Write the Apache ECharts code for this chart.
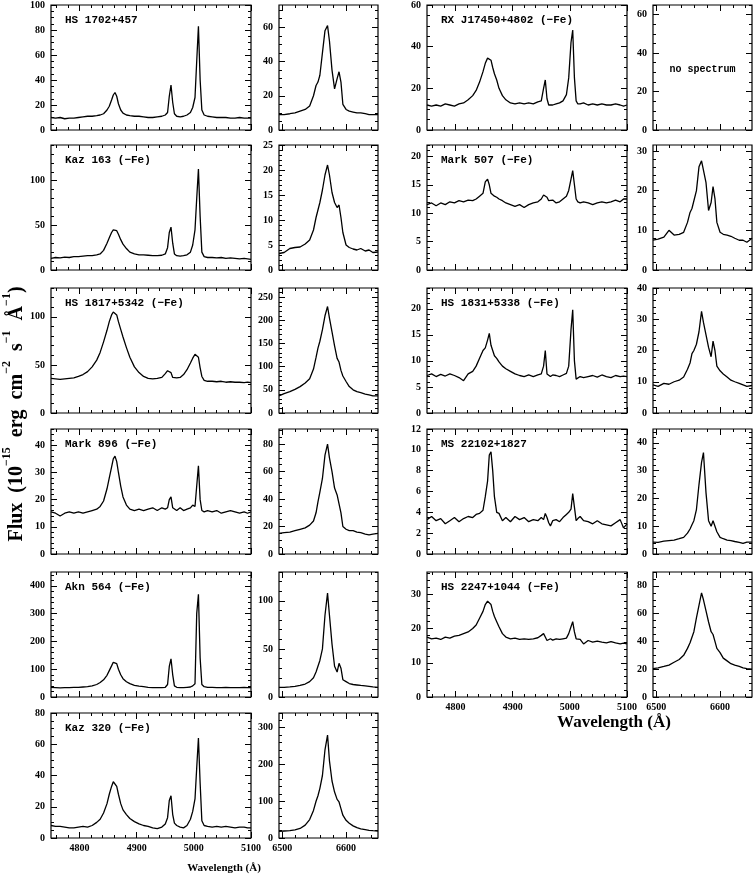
<!DOCTYPE html>
<html><head><meta charset="utf-8">
<script src="https://cdn.jsdelivr.net/npm/echarts@6/dist/echarts.min.js"></script>
<style>html,body{margin:0;padding:0;background:#fff}#c{width:754px;height:877px}</style>
</head><body><div id="c"></div>
<script>
// ---- wavelength grids (Angstrom) ----
const HB_WAVE = [4750,4758,4766,4774,4782,4790,4798,4806,4814,4822,
  4830,4836,4842,4848,4852,4856,4859,4862,4865,4868,
  4872,4876,4882,4888,4896,4904,4912,4920,4928,4936,
  4944,4950,4954,4957,4960,4963,4966,4970,4976,4982,
  4988,4994,4998,5002,5005,5008,5011,5014,5018,5024,
  5032,5040,5048,5056,5064,5072,5080,5088,5094,5100];
const HA_WAVE = [6495,6503,6512,6520,6528,6536,6543,6549,6553,6556,
  6559,6563,6567,6571,6574,6578,6582,6586,6589,6592,
  6595,6600,6605,6611,6617,6623,6630,6636,6642,6650];

// ---- tick labels ----
const HB_X_LABELS = [4800,4900,5000,5100];
const HA_X_LABELS = [6500,6600];

// ---- flux values (10^-15 erg cm^-2 s^-1 A^-1) ----
const hs1702_hb = [10,9.5,10,9,9.5,9.5,10,10.5,11,11, 11.5,12,13,16,19,24,28,30,27,21, 16,13.5,12,11.5,11,11,10.5,10,10,10.5, 11,12,14,27,36,22,13,11,10.5,11, 12,14,18,26,55,83,40,16,12,11, 10.5,10,10,10,9.5,9.5,10,9.5,9.5,9.5];
const hs1702_ha = [9,9,9.5,10,11,12,14,20,26,28, 32,45,58,61,52,35,24,30,34,28, 15,12,11,10.5,10,10,9.5,9,9,9];
const kaz163_hb = [13,14,13.5,14.5,14,15,15,15.5,16,16, 17,18,22,30,36,42,45,46,44,40, 34,29,24,20,18,17,17,16.5,16,16, 16.5,18,25,42,48,30,18,16,15.5,16, 17,20,28,45,80,113,60,20,15,14, 14,13.5,14,13,13.5,13,12.5,13,12.5,12];
const kaz163_ha = [3.3,3.5,4.3,4.5,4.6,5.2,6,8,10.5,12, 13.5,16,19,21,19,15.5,13.5,12.5,13,10.5, 7.5,5,4.5,4.2,4,4.3,3.8,4,3.5,3.6];
const hs1817_hb = [36,35.5,35,35.5,36,36.5,38,40,43,48, 55,63,74,86,95,102,105,106,102,95, 87,79,68,58,48,42,38,36,35.5,36, 37,41,44,45,42,37,36,36.5,37,40, 45,52,57,61,62,58,47,38,34,33, 33,32.5,33,32,32.5,32,32,31.5,32,31.5];
const hs1817_ha = [37,42,46,51,57,65,74,95,120,140, 155,180,210,230,205,175,145,118,110,92, 80,68,57,50,46,44,41,39,37,37];
const mark896_hb = [15.5,15,14,15,15.5,15,15.5,15,15.5,16, 16.5,17.5,19.5,24,28,32,35,36,34,30, 25,21,18,16.5,16,16.5,16,16.5,17,16, 17,16.5,17,20,21,17,16.5,16,17,16, 16.5,17,18,17.5,25,32.5,20,16,15.5,16, 15.5,16,15,15.5,16,15.5,15,15.5,15,15.5];
const mark896_ha = [15,15.5,16,17,18,19,21,24,30,38, 45,55,72,80,70,60,48,43,42,30, 20,18,17,17,16,15.5,14.5,14,14.5,15];
const akn564_hb = [35,34,33,34,34,35,35,36,37,40, 45,52,62,78,95,112,125,132,120,100, 80,66,55,48,42,39,37,35,34,34, 34,35,45,110,137,80,40,35,34,34, 35,36,40,48,300,370,140,45,37,35, 35,34,34,35,34,34,34,35,34,34];
const akn564_ha = [10,10,10.5,11,12,13.5,16,20,26,32, 38,50,85,108,85,55,32,26,35,30, 18,16,14,13,12.5,12,11.5,11,10.5,10];
const kaz320_hb = [8,7.5,7.5,7,6.5,6.5,7,7.5,7,8, 10,12,16,22,28,33,36,37,33,28, 22,18,15,12.5,10.5,9,8,7.5,6.5,6, 7,9,13,24,27,15,9.5,8,7,6.5, 8,12,17,25,45,64,35,11,8,7.5, 7,7.5,7,7.5,7,6.5,7,7,6.5,6.5];
const kaz320_ha = [18,19,20,22,26,35,50,75,100,115, 135,170,240,280,210,155,125,105,98,80, 62,48,40,33,28,25,23,21,20,19];
const rxj17450_hb = [12,11.5,12,11.5,12.5,12,11.5,12.5,13,14.5, 16.5,19,23,28,32,34.5,35,33.5,30,27, 24,20,16.5,14.5,13,12.5,13,12.5,13,12.5, 13.5,14,20,24,15,12,12.5,12,12.5,13, 14,17,25,42,48,25,14,12.5,12.5,13, 12,12.5,12,12.5,12,12,12.5,12,11.5,12];
const mark507_hb = [11.5,11.8,11.3,11.8,11.5,12,11.8,12.2,12,12.3, 12.2,12.5,13,13.5,15.5,16,15,13.5,13.2,13, 12.8,12.5,12.2,11.8,11.5,11.2,11.5,11,11.5,11.8, 12,12.5,13.2,13.5,12.8,12.2,12,12.3,11.8,12, 12.5,13,14,16,17.5,15,12.5,12,11.8,12, 11.8,11.5,11.8,12,11.8,12,12.3,12,12.5,12.5];
const mark507_ha = [7.5,7.8,8.3,10,8.8,9,9.5,12,14.5,15.5, 16,20,26,27.5,27,22,15,17,21,18, 12,9.5,9,8.8,8.5,8,7.5,7.5,7,8];
const hs1831_hb = [7.2,7.5,7,7.4,7.1,7.5,7.2,6.8,6.2,7.5, 8,9,10.5,12,12.5,14,15.3,13,12,11, 10.5,9.8,9,8.5,8,7.5,7.2,7,7.3,7, 7.3,7.5,9,12,7.5,7.2,7,7.3,7.2,7, 7.3,7.6,9,16,19.8,10,6.5,6.8,7,6.8, 7,7.2,6.9,7.3,7,6.8,7.2,7,7.1,7];
const hs1831_ha = [9,8.5,9.5,9.2,10,10.5,11.5,14,16,19, 20,22,26,32.5,29,25,21,18,23,20, 15,13.5,12.5,11.5,10.5,10,9.5,9,8.5,8.8];
const ms22102_hb = [3.3,3.6,3.2,3.4,2.9,3.2,3.5,3.1,3.4,3.6, 3.5,3.8,3.9,4.2,5.5,7,9.5,9.8,8,5.5, 4,3.9,3.2,3.5,3.1,3.6,3.3,3.5,3.1,3.3, 3.2,3.5,3.3,3.9,3.5,3,2.7,3.2,3.3,3.1, 3.5,3.8,4,4.3,5.8,4.5,3.2,3.4,3.6,3.2, 3.1,2.9,3.2,2.9,2.8,2.7,3,3.3,2.5,2.9];
const ms22102_ha = [4.3,4.2,4.6,4.8,5,5.5,6,7.5,9,10.5, 12,16,25,33,36.5,22,12,10,12,12.5, 8,6,5.5,5,4.8,4.5,4.2,3.8,4.3,4.3];
const hs2247_hb = [17.5,17,17.2,16.8,17.5,17.2,17.8,18,18.5,19, 20,21,23,25,27,28,28,27,25,23.5, 22,20.5,18.5,17.5,17,17.2,16.8,17,16.8,17, 17.3,18,18.5,17.5,16.5,16.8,17,16.6,17,16.8, 17,17.2,18.5,20.5,22,19,17,16.5,16.8,15.5, 16.5,16,16.3,16,15.8,16.2,15.8,15.5,15.7,15.5];
const hs2247_ha = [20.5,21,22,23,25,27,30,35,39,43, 47,57,66,75,70,62,54,47,45,40, 35,32,28,26,24,23,22,21,20.5,20];

// ---- object names and flux-axis tick settings [max, major step, minor step] ----
const OBJECTS = [
  {name:'HS 1702+457',            hb:hs1702_hb,  ha:hs1702_ha,  hbY:[100,20,5],  haY:[73,20,5]},
  {name:'Kaz 163 (\u2212Fe)',     hb:kaz163_hb,  ha:kaz163_ha,  hbY:[140,50,10], haY:[25,5,1]},
  {name:'HS 1817+5342 (\u2212Fe)',hb:hs1817_hb,  ha:hs1817_ha,  hbY:[130,50,10], haY:[270,50,10]},
  {name:'Mark 896 (\u2212Fe)',    hb:mark896_hb, ha:mark896_ha, hbY:[46,10,2],   haY:[91,20,5]},
  {name:'Akn 564 (\u2212Fe)',     hb:akn564_hb,  ha:akn564_ha,  hbY:[450,100,20],haY:[130,50,10]},
  {name:'Kaz 320 (\u2212Fe)',     hb:kaz320_hb,  ha:kaz320_ha,  hbY:[80,20,5],   haY:[340,100,20]},
  {name:'RX J17450+4802 (\u2212Fe)', hb:rxj17450_hb, ha:null,   hbY:[60,20,5],   haY:[65,20,5]},
  {name:'Mark 507 (\u2212Fe)',    hb:mark507_hb, ha:mark507_ha, hbY:[22,5,1],    haY:[31.5,10,2]},
  {name:'HS 1831+5338 (\u2212Fe)',hb:hs1831_hb,  ha:hs1831_ha,  hbY:[24,5,1],    haY:[40,10,2]},
  {name:'MS 22102+1827',          hb:ms22102_hb, ha:ms22102_ha, hbY:[12,2,0.5],  haY:[45,10,2]},
  {name:'HS 2247+1044 (\u2212Fe)',hb:hs2247_hb,  ha:hs2247_ha,  hbY:[36.5,10,2], haY:[90,20,5]}
];

// ---- layout ----
const ROW_TOP = [5,145,288,429,572,713];
const PANEL_H = 125;
const COLS = [{main:51, small:279, n:6}, {main:427, small:653, n:5}];
const MAIN_W = 200, SMALL_W = 99;
const HB_XR = {min:4750, max:5100, minor:20, major:HB_X_LABELS};
const HA_XR = {min:6495, max:6650, minor:20, major:HA_X_LABELS};

const TICK_FONT = {fontFamily:'Liberation Serif', fontWeight:'bold', fontSize:10, color:'#000', formatter:v=>String(v)};
const grids=[], xAxes=[], yAxes=[], series=[], graphics=[];

function ticks(min,max,step){
  const out=[]; const s=Math.ceil(min/step-1e-9);
  for(let i=s; i*step<=max+1e-9; i++) out.push(+(i*step).toFixed(4));
  return out;
}
function addPanel(x,y,w,h,xr,yc,wave,flux,showX){
  const g=grids.length;
  grids.push({left:x, top:y, width:w, height:h, show:true, borderColor:'#000', borderWidth:1.2, backgroundColor:'rgba(0,0,0,0)'});
  const xMaj=xr.major;
  const xMin=ticks(xr.min,xr.max,xr.minor).filter(v=>!xMaj.includes(v));
  const yMaj=ticks(0,yc[0],yc[1]);
  const yMin=ticks(0,yc[0],yc[2]).filter(v=>!yMaj.some(m=>Math.abs(m-v)<1e-6));
  const bx=xAxes.length, by=yAxes.length;
  [['bottom',xMaj,6,showX],['bottom',xMin,3,false],['top',xMaj,6,false],['top',xMin,3,false]].forEach(([pos,vals,len,lab])=>{
    xAxes.push({gridIndex:g,type:'value',position:pos,min:xr.min,max:xr.max,
      axisLine:{show:false,onZero:false},splitLine:{show:false},
      axisTick:{show:true,inside:true,length:len,customValues:vals,lineStyle:{color:'#000',width:1}},
      axisLabel:Object.assign({show:lab,customValues:xMaj,margin:5},TICK_FONT)});
  });
  [['left',yMaj,6,true],['left',yMin,3,false],['right',yMaj,6,false],['right',yMin,3,false]].forEach(([pos,vals,len,lab])=>{
    yAxes.push({gridIndex:g,type:'value',position:pos,min:0,max:yc[0],
      axisLine:{show:false,onZero:false},splitLine:{show:false},
      axisTick:{show:true,inside:true,length:len,customValues:vals,lineStyle:{color:'#000',width:1}},
      axisLabel:Object.assign({show:lab,customValues:yMaj,margin:6},TICK_FONT)});
  });
  if(flux){
    series.push({type:'line',xAxisIndex:bx,yAxisIndex:by,data:wave.map((wl,i)=>[wl,flux[i]]),
      symbol:'none',showSymbol:false,silent:true,animation:false,clip:true,
      lineStyle:{color:'#000',width:1.3}});
  }
}

let k=0;
COLS.forEach(col=>{
  for(let r=0;r<col.n;r++){
    const o=OBJECTS[k++]; const top=ROW_TOP[r]; const last=(r===col.n-1);
    addPanel(col.main,top,MAIN_W,PANEL_H,HB_XR,o.hbY,HB_WAVE,o.hb,last);
    addPanel(col.small,top,SMALL_W,PANEL_H,HA_XR,o.haY,HA_WAVE,o.ha,last);
    graphics.push({type:'text',left:col.main+14,top:top+10,silent:true,
      style:{text:o.name,fill:'#000',font:'bold 11px "Liberation Mono", monospace'}});
    if(!o.ha){
      graphics.push({type:'text',x:col.small+SMALL_W/2,y:top+64,silent:true,
        style:{text:'no spectrum',fill:'#000',align:'center',verticalAlign:'middle',font:'bold 10px "Liberation Mono", monospace'}});
    }
  }
});

// axis titles
graphics.push({type:'text',x:14,y:414,rotation:Math.PI/2,silent:true,
  style:{text:'{m|Flux  (10}{s|\u221215}{m|  erg  cm}{s|\u22122}{m|  s}{s|\u22121}{m|  \u00c5}{s|\u22121}{m|)}',
    align:'center',verticalAlign:'middle',fill:'#000',
    rich:{m:{fontFamily:'Liberation Serif',fontWeight:'bold',fontSize:20,lineHeight:26,verticalAlign:'bottom',fill:'#000'},
          s:{fontFamily:'Liberation Serif',fontWeight:'bold',fontSize:12,lineHeight:26,verticalAlign:'top',fill:'#000'}}}});
graphics.push({type:'text',x:224,y:868,silent:true,
  style:{text:'Wavelength (\u00c5)',align:'center',verticalAlign:'middle',fill:'#000',font:'bold 11px "Liberation Serif", serif'}});
graphics.push({type:'text',x:614,y:723,silent:true,
  style:{text:'Wavelength (\u00c5)',align:'center',verticalAlign:'middle',fill:'#000',font:'bold 17px "Liberation Serif", serif'}});

const chart=echarts.init(document.getElementById('c'),null,{renderer:'canvas'});
chart.setOption({animation:false,backgroundColor:'#fff',grid:grids,xAxis:xAxes,yAxis:yAxes,series:series,graphic:graphics});
</script></body></html>
